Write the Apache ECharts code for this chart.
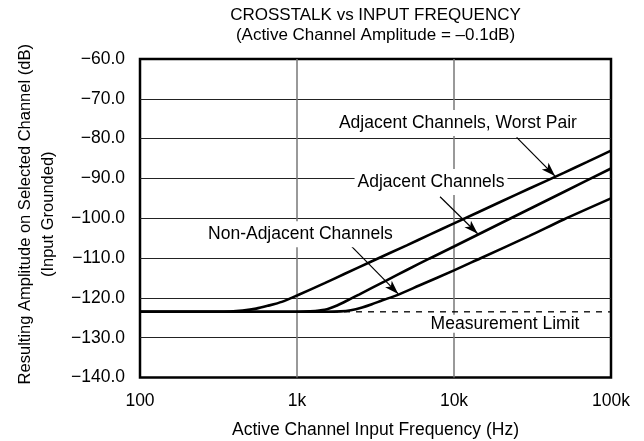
<!DOCTYPE html>
<html><head><meta charset="utf-8">
<script src="https://cdn.jsdelivr.net/npm/echarts@6/dist/echarts.min.js"></script>
<style>html,body{margin:0;padding:0;background:#fff}#c{width:644px;height:441px}</style>
</head><body><div id="c"></div>
<script>
// ---- data ----
const titleLines = ['CROSSTALK vs INPUT FREQUENCY', '(Active Channel Amplitude = \u20130.1dB)'];
const xAxisTitle = 'Active Channel Input Frequency (Hz)';
const yAxisTitle = 'Resulting Amplitude on Selected Channel (dB)\n(Input Grounded)';
const xTickValues = [100, 1000, 10000, 100000];
const xTickLabels = ['100', '1k', '10k', '100k'];
const yMin = -140, yMax = -60, yStep = 10;

const worstFreq = [100, 200, 300, 375, 450, 550, 650, 800, 1000, 1500, 2000, 3000, 5000, 7000, 10000, 20000, 30000, 50000, 70000, 100000];
const worstDb   = [-123.5, -123.5, -123.5, -123.45, -123.2, -122.7, -122.0, -121.0, -119.4, -116.3, -114.0, -110.8, -106.8, -104.1, -101.3, -95.8, -92.6, -88.6, -85.9, -83.0];

const adjFreq = [100, 1000, 1200, 1500, 1800, 2175, 2500, 3000, 3725, 5000, 7000, 10000, 20000, 50000, 100000];
const adjDb   = [-123.5, -123.5, -123.4, -123.0, -121.9, -120.3, -119.1, -117.5, -115.6, -113.0, -110.1, -107.1, -101.2, -93.4, -87.5];

const nonAdjFreq = [100, 1500, 1900, 2200, 2600, 3000, 3500, 4350, 6000, 10000, 14650, 30000, 50000, 100000];
const nonAdjDb   = [-123.5, -123.5, -123.4, -123.1, -122.4, -121.6, -120.6, -119.3, -116.9, -113.1, -110.1, -104.5, -100.3, -95.0];

const limitFreq = [100, 100000];
const limitDb   = [-123.5, -123.5];

const noteTexts  = ['Adjacent Channels, Worst Pair', 'Adjacent Channels', 'Non-Adjacent Channels', 'Measurement Limit'];
const noteFreq   = [10590, 7140, 1052, 21130];
const noteDb     = [-76.1, -90.9, -104.0, -126.5];
const arrowFrom  = [[25060, -79.7], [8150, -94.6], [2178, -106.7]];
const arrowTo    = [[44000, -89.4], [14160, -103.9], [4416, -119.0]];

// ---- chart ----
const FONT = 'Liberation Sans, Arial, Helvetica, sans-serif';
const FS = 17.5;
const G = {left: 140, right: 33, top: 59, bottom: 63.5};
const zip = (a, b) => a.map((v, i) => [v, b[i]]);
const chart = echarts.init(document.getElementById('c'), null, {renderer: 'canvas'});

const curve = (name, f, d) => ({
  name, type: 'line', data: zip(f, d), showSymbol: false, smooth: 0.25, z: 4,
  lineStyle: {color: '#000', width: 2.6}, silent: true
});

chart.setOption({
  animation: false,
  backgroundColor: '#fff',
  textStyle: {fontFamily: FONT},
  graphic: [{
    type: 'text', x: G.left + (644 - G.left - G.right) / 2, y: 5,
    style: {text: titleLines.join('\n'), textAlign: 'center', textVerticalAlign: 'top',
      fontSize: 17, lineHeight: 20, fontFamily: FONT, fill: '#000'}
  }],
  grid: {left: G.left, right: G.right, top: G.top, bottom: G.bottom, show: true,
    containLabel: false, outerBoundsMode: 'none',
    borderColor: '#000', borderWidth: 2.5, backgroundColor: 'transparent'},
  xAxis: {
    type: 'log', logBase: 10, min: 100, max: 100000,
    name: xAxisTitle, nameLocation: 'middle', nameGap: 44,
    nameTextStyle: {fontSize: FS, color: '#000', fontFamily: FONT},
    axisLine: {show: false}, axisTick: {show: false},
    axisLabel: {fontSize: FS, color: '#000', margin: 15, fontFamily: FONT,
      formatter: v => { const i = xTickValues.findIndex(t => Math.abs(t - v) / t < 1e-6); return i >= 0 ? xTickLabels[i] : ''; }},
    splitLine: {show: true, showMinLine: false, showMaxLine: false, lineStyle: {color: '#777', width: 1.5}}
  },
  yAxis: {
    type: 'value', min: yMin, max: yMax, interval: yStep,
    name: yAxisTitle, nameLocation: 'middle', nameGap: 80, nameRotate: 90,
    nameTextStyle: {fontSize: 16.5, lineHeight: 23, color: '#000', fontFamily: FONT, align: 'center', padding: [0, 0, 0, 8]},
    axisLine: {show: false}, axisTick: {show: false},
    axisLabel: {fontSize: FS, color: '#000', margin: 15, padding: [8, 0, 0, 0], fontFamily: FONT,
      formatter: v => '\u2212' + Math.abs(v).toFixed(1)},
    splitLine: {show: true, showMinLine: false, showMaxLine: false, lineStyle: {color: '#222', width: 1}}
  },
  series: [
    {
      name: 'Measurement Limit', type: 'line', data: zip(limitFreq, limitDb), showSymbol: false, z: 3,
      lineStyle: {color: '#000', width: 1.3, type: [6, 6]}, silent: true,
      markPoint: {
        silent: true, symbol: 'rect', symbolSize: 0,
        label: {show: true, position: 'inside', color: '#000', fontSize: FS, fontFamily: FONT,
          backgroundColor: '#fff', formatter: p => p.name},
        data: noteTexts.map((t, i) => ({name: t, coord: [noteFreq[i], noteDb[i]],
          label: {padding: i === 3 ? [0, 3] : [4, 3]}}))
      },
      markLine: {
        silent: true, symbol: ['none', 'arrow'], symbolSize: [7, 14],
        label: {show: false},
        lineStyle: {color: '#000', width: 1.2, type: 'solid'},
        data: arrowFrom.map((a, i) => [{coord: a}, {coord: arrowTo[i]}])
      }
    },
    curve('Adjacent Channels, Worst Pair', worstFreq, worstDb),
    curve('Adjacent Channels', adjFreq, adjDb),
    curve('Non-Adjacent Channels', nonAdjFreq, nonAdjDb)
  ]
});
</script>
</body></html>
